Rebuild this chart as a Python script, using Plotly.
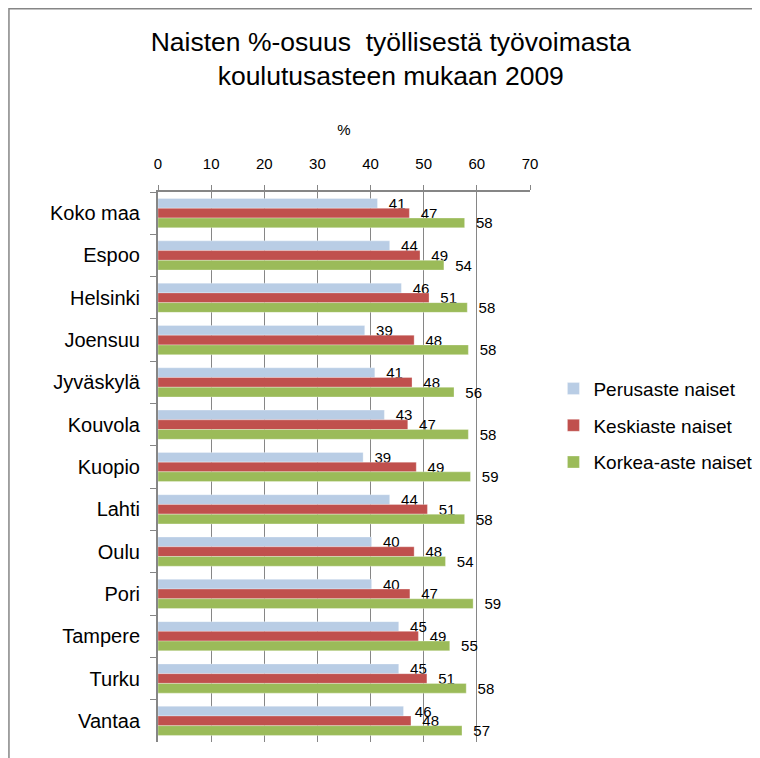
import plotly.graph_objects as go

categories = ["Koko maa", "Espoo", "Helsinki", "Joensuu", "Jyväskylä", "Kouvola",
              "Kuopio", "Lahti", "Oulu", "Pori", "Tampere", "Turku", "Vantaa"]
perusaste = [41.3, 43.6, 45.8, 38.9, 40.8, 42.6, 38.6, 43.6, 40.2, 40.2, 45.3, 45.3, 46.2]
keskiaste = [47.3, 49.3, 51.0, 48.2, 47.8, 47.0, 48.6, 50.7, 48.2, 47.4, 49.0, 50.6, 47.6]
korkea = [57.7, 53.8, 58.2, 58.4, 55.7, 58.4, 58.8, 57.7, 54.1, 59.3, 54.9, 58.0, 57.2]

series = [
    ("Perusaste naiset", perusaste, "#B9CDE5"),
    ("Keskiaste naiset", keskiaste, "#C0504D"),
    ("Korkea-aste naiset", korkea, "#9BBB59"),
]

FONT = "Liberation Sans, Arial, sans-serif"

# page has an 8px body margin, so the figure is sized to fit the 760x758 window
W, H = 752, 750
L, T = 150, 184
PW, PH = 372.5, 550

fig = go.Figure()
for name, vals, color in series:
    fig.add_trace(go.Bar(
        y=categories, x=vals, name=name, orientation="h",
        marker=dict(color=color, line=dict(color="rgba(255,255,255,0.6)", width=0.5)),
        texttemplate="  %{x:.0f}", textposition="outside", constraintext="none",
        textfont=dict(family=FONT, size=15, color="black"),
        cliponaxis=False, legendgroup=name,
    ))

fig.update_layout(
    width=W, height=H,
    margin=dict(l=L, r=W - L - PW, t=T, b=H - T - PH, autoexpand=False),
    paper_bgcolor="white", plot_bgcolor="white",
    barmode="group", bargap=0.31, bargroupgap=0,
    font=dict(family=FONT, color="black"),
    title=dict(text="Naisten %-osuus  työllisestä työvoimasta<br>koulutusasteen mukaan 2009",
               x=0.509, xanchor="center", xref="container",
               y=1 - 43 / H, yanchor="top",
               font=dict(family=FONT, size=26.5, color="black")),
    legend=dict(x=1.063, y=0.575, xanchor="left", yanchor="middle",
                font=dict(family=FONT, size=19, color="black"),
                traceorder="grouped", tracegroupgap=9,
                itemwidth=30, bgcolor="rgba(0,0,0,0)"),
    showlegend=True,
)

fig.update_xaxes(
    side="top", range=[0, 70], dtick=10, tick0=0,
    showgrid=True, gridcolor="#868686", gridwidth=1,
    showline=True, linecolor="#868686", linewidth=2,
    ticks="outside", ticklen=5, tickcolor="#868686",
    tickfont=dict(family=FONT, size=15, color="black"),
    ticklabelstandoff=10,
    title=dict(text="%", standoff=16, font=dict(family=FONT, size=15, color="black")),
    zeroline=False, fixedrange=True, automargin=False,
)
fig.update_yaxes(
    autorange="reversed", type="category",
    showline=True, linecolor="#868686", linewidth=2,
    ticks="outside", ticklen=6, tickcolor="#868686", tickson="boundaries",
    tickfont=dict(family=FONT, size=20, color="black"),
    ticklabelstandoff=12,
    showgrid=False, fixedrange=True, automargin=False,
)

# outer chart frame
fig.add_shape(type="rect", xref="paper", yref="paper",
              x0=(0.75 - L) / PW, x1=(800 - L) / PW,
              y0=(T + PH - 800) / PH, y1=(T + PH - 0.75) / PH,
              line=dict(color="#868686", width=1.5), layer="below")

fig.write_html("out.html")
